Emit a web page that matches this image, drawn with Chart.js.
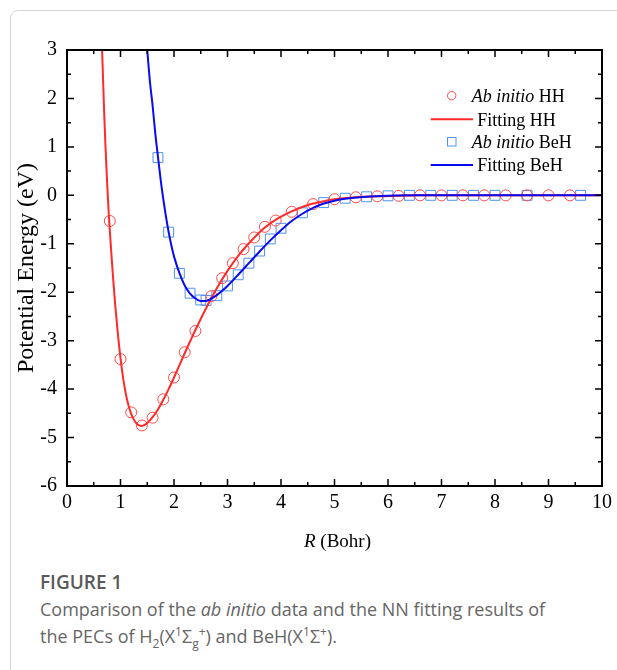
<!DOCTYPE html>
<html>
<head>
<meta charset="utf-8">
<script src="https://cdn.jsdelivr.net/npm/chart.js@4"></script>
<style>
html, body { margin: 0; padding: 0; background: #fff; overflow: hidden; }
body { width: 617px; height: 670px; position: relative; }
#frame { position: absolute; left: 10px; top: 10px; width: 660px; height: 720px; border: 1px solid #d6d6d6; border-radius: 8px; }
#myChart { position: absolute; left: 0; top: 0; }
#caption { position: absolute; left: 40px; top: 569px; font-family: 'Open Sans', sans-serif; color: #666; }
#caption .fig { font-size: 19px; font-weight: 600; line-height: 27px; color: #5a5a5a; }
#caption .txt { font-size: 18px; line-height: 27px; }
#caption sub, #caption sup { font-size: 12px; line-height: 0; }
</style>
</head>
<body>
<div id="frame"></div>
<canvas id="myChart" width="617" height="560"></canvas>
<div id="caption">
  <div class="fig">FIGURE 1</div>
  <div class="txt">Comparison of the <i>ab initio</i> data and the NN fitting results of</div>
  <div class="txt">the PECs of H<sub>2</sub>(X<sup>1</sup>Σ<sub>g</sub><sup>+</sup>) and BeH(X<sup>1</sup>Σ<sup>+</sup>).</div>
</div>
<script>
'use strict';

// ab initio points, H2
let hhR = [0.8, 1.0, 1.2, 1.4, 1.6, 1.8, 2.0, 2.2, 2.4, 2.7, 2.9, 3.1, 3.3, 3.5, 3.7, 3.9, 4.2, 4.6, 5.0, 5.4, 5.8, 6.2, 6.6, 7.0, 7.4, 7.8, 8.2, 8.6, 9.0, 9.4];
let hhE = [-0.53, -3.38, -4.48, -4.75, -4.59, -4.21, -3.76, -3.24, -2.80, -2.08, -1.71, -1.40, -1.11, -0.87, -0.65, -0.52, -0.34, -0.18, -0.08, -0.04, -0.02, -0.01, 0, 0, 0, 0, 0, 0, 0, 0];

// ab initio points, BeH
let beR = [1.7, 1.9, 2.1, 2.3, 2.5, 2.6, 2.8, 3.0, 3.2, 3.4, 3.6, 3.8, 4.0, 4.4, 4.8, 5.2, 5.6, 6.0, 6.4, 6.8, 7.2, 7.6, 8.0, 8.6, 9.6];
let beE = [0.78, -0.76, -1.61, -2.02, -2.16, -2.17, -2.07, -1.87, -1.64, -1.40, -1.15, -0.90, -0.68, -0.36, -0.15, -0.06, -0.03, -0.01, 0, 0, 0, 0, 0, 0, 0];

// NN fitting curves
let fitHHR = [0.656, 0.68, 0.70, 0.72, 0.74, 0.76, 0.78, 0.80, 0.83, 0.86, 0.90, 0.95, 1.0, 1.05, 1.1, 1.15, 1.2, 1.25, 1.3, 1.35, 1.4, 1.45, 1.5, 1.6, 1.7, 1.8, 1.9, 2.0, 2.2, 2.4, 2.6, 2.8, 3.0, 3.2, 3.4, 3.6, 3.8, 4.0, 4.2, 4.4, 4.6, 4.8, 5.0, 5.4, 5.8, 6.2, 6.6, 7.5, 10];
let fitHHE = [3.0, 2.2, 1.55, 1.0, 0.5, 0.05, -0.38, -0.72, -1.22, -1.68, -2.25, -2.85, -3.36, -3.78, -4.10, -4.34, -4.51, -4.63, -4.71, -4.75, -4.76, -4.74, -4.70, -4.58, -4.42, -4.22, -4.00, -3.76, -3.26, -2.78, -2.33, -1.92, -1.56, -1.25, -0.99, -0.76, -0.58, -0.44, -0.33, -0.24, -0.17, -0.12, -0.08, -0.04, -0.02, -0.01, 0, 0, 0];

let fitBeR = [1.50, 1.55, 1.60, 1.65, 1.70, 1.75, 1.80, 1.85, 1.90, 1.95, 2.0, 2.1, 2.2, 2.3, 2.4, 2.5, 2.6, 2.7, 2.8, 2.9, 3.0, 3.2, 3.4, 3.6, 3.8, 4.0, 4.2, 4.4, 4.6, 4.8, 5.0, 5.2, 5.6, 6.0, 6.5, 10];
let fitBeE = [3.0, 2.35, 1.85, 1.28, 0.80, 0.33, -0.08, -0.44, -0.76, -1.03, -1.26, -1.60, -1.86, -2.03, -2.13, -2.18, -2.18, -2.13, -2.06, -1.97, -1.87, -1.64, -1.40, -1.16, -0.93, -0.72, -0.53, -0.38, -0.26, -0.17, -0.11, -0.07, -0.03, -0.01, 0, 0];

const serif = '"Liberation Serif", "Times New Roman", serif';
const redLine = '#ff2a2a';
const redDot = '#ff4a4a';
const blueLine = '#0a0af0';
const blueDot = '#4d94f0';

Chart.defaults.font.family = serif;
Chart.defaults.font.size = 20;
Chart.defaults.color = '#000';

function pts(xs, ys) {
  return xs.map((v, i) => ({ x: v, y: ys[i] }));
}

// frame, inward ticks, x title and legend
const framePlugin = {
  id: 'framePlugin',
  afterDatasetsDraw(chart) {
    const { ctx, chartArea: a, scales: { x, y } } = chart;
    ctx.save();
    ctx.strokeStyle = '#000';
    ctx.lineWidth = 1.5;
    ctx.beginPath();
    let xv = x.ticks.map(t => t.value);
    let yv = y.ticks.map(t => t.value);
    xv.forEach((v, i) => {
      let px = x.getPixelForValue(v);
      ctx.moveTo(px, a.bottom); ctx.lineTo(px, a.bottom - 7);
      ctx.moveTo(px, a.top); ctx.lineTo(px, a.top + 7);
      if (i < xv.length - 1) {
        let mx = x.getPixelForValue(v + 0.5);
        ctx.moveTo(mx, a.bottom); ctx.lineTo(mx, a.bottom - 4);
        ctx.moveTo(mx, a.top); ctx.lineTo(mx, a.top + 4);
      }
    });
    yv.forEach((v, i) => {
      let py = y.getPixelForValue(v);
      ctx.moveTo(a.left, py); ctx.lineTo(a.left + 7, py);
      ctx.moveTo(a.right, py); ctx.lineTo(a.right - 7, py);
      if (i < yv.length - 1) {
        let my = y.getPixelForValue(v + 0.5);
        ctx.moveTo(a.left, my); ctx.lineTo(a.left + 4, my);
        ctx.moveTo(a.right, my); ctx.lineTo(a.right - 4, my);
      }
    });
    ctx.stroke();
    ctx.lineWidth = 2;
    ctx.strokeRect(a.left, a.top, a.right - a.left, a.bottom - a.top);
    ctx.restore();
  },
  afterDraw(chart) {
    const { ctx, chartArea: a } = chart;
    ctx.save();
    ctx.fillStyle = '#000';
    ctx.textBaseline = 'alphabetic';

    // x axis title: italic R
    let it = 'italic 19px ' + serif;
    let rm = '19px ' + serif;
    ctx.font = it; let w1 = ctx.measureText('R').width;
    ctx.font = rm; let w2 = ctx.measureText(' (Bohr)').width;
    let sx = (a.left + a.right) / 2 + 3 - (w1 + w2) / 2;
    ctx.font = it; ctx.fillText('R', sx, 547);
    ctx.font = rm; ctx.fillText(' (Bohr)', sx + w1, 547);

    // legend
    let lx = 471.7, tx = 477.3;
    let italic = 'italic 18px ' + serif;
    let normal = '18px ' + serif;
    function mixed(a1, b1, px, by) {
      ctx.font = italic; ctx.fillText(a1, px, by);
      let w = ctx.measureText(a1).width;
      ctx.font = normal; ctx.fillText(b1, px + w, by);
    }
    ctx.lineWidth = 1;
    ctx.strokeStyle = redDot;
    ctx.beginPath(); ctx.arc(451.7, 95.7, 4.2, 0, Math.PI * 2); ctx.stroke();
    mixed('Ab initio', ' HH', lx, 102);

    ctx.lineWidth = 2;
    ctx.strokeStyle = redLine;
    ctx.beginPath(); ctx.moveTo(430.7, 119.3); ctx.lineTo(473, 119.3); ctx.stroke();
    ctx.font = normal; ctx.fillText('Fitting HH', tx, 125.5);

    ctx.lineWidth = 1;
    ctx.strokeStyle = blueDot;
    ctx.strokeRect(447.5, 137.5, 8.5, 8.5);
    mixed('Ab initio', ' BeH', lx, 148);

    ctx.lineWidth = 2;
    ctx.strokeStyle = blueLine;
    ctx.beginPath(); ctx.moveTo(430.7, 165); ctx.lineTo(473, 165); ctx.stroke();
    ctx.font = normal; ctx.fillText('Fitting BeH', tx, 171.3);
    ctx.restore();
  }
};

let ctx = document.getElementById('myChart').getContext('2d');
let myChart = new Chart(ctx, { //eslint-disable-line
  type: 'scatter',
  data: {
    datasets: [
      {
        label: 'Fitting BeH',
        type: 'line',
        data: pts(fitBeR, fitBeE),
        borderColor: blueLine,
        borderWidth: 2,
        pointRadius: 0,
        cubicInterpolationMode: 'monotone',
        fill: false,
        order: 0
      },
      {
        label: 'Fitting HH',
        type: 'line',
        data: pts(fitHHR, fitHHE),
        borderColor: redLine,
        borderWidth: 2,
        pointRadius: 0,
        cubicInterpolationMode: 'monotone',
        fill: false,
        order: 1
      },
      {
        label: 'Ab initio HH',
        data: pts(hhR, hhE),
        pointStyle: 'circle',
        pointRadius: 5.5,
        borderColor: redDot,
        backgroundColor: 'rgba(0,0,0,0)',
        borderWidth: 1,
        order: 2
      },
      {
        label: 'Ab initio BeH',
        data: pts(beR, beE),
        pointStyle: 'rect',
        pointRadius: 7,
        borderColor: blueDot,
        backgroundColor: 'rgba(0,0,0,0)',
        borderWidth: 1,
        order: 3
      }
    ]
  },
  options: {
    responsive: false,
    animation: false,
    devicePixelRatio: 1,
    layout: { padding: { left: 0, top: 50, right: 12, bottom: 0 } },
    plugins: { legend: { display: false }, tooltip: { enabled: false } },
    scales: {
      x: {
        type: 'linear',
        min: 0,
        max: 10,
        ticks: { stepSize: 1, color: '#000', padding: 5, maxRotation: 0, font: { family: serif, size: 20 } },
        grid: { display: false, drawTicks: false },
        border: { display: false },
        afterFit(s) { s.height = 74; }
      },
      y: {
        min: -6,
        max: 3,
        ticks: { stepSize: 1, color: '#000', padding: 10, font: { family: serif, size: 20 } },
        grid: { display: false, drawTicks: false },
        border: { display: false },
        title: { display: true, text: 'Potential Energy (eV)', color: '#000', font: { family: serif, size: 24 }, padding: { top: 12, bottom: 0 } },
        afterFit(s) { s.width = 67; }
      }
    }
  },
  plugins: [framePlugin]
});
</script>
</body>
</html>
